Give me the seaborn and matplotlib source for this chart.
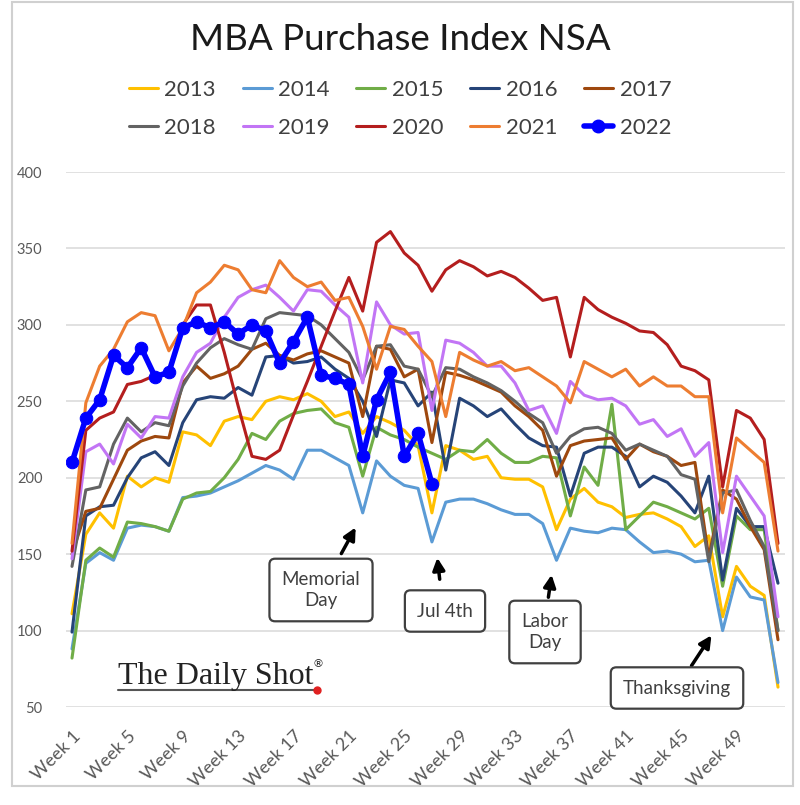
import matplotlib
matplotlib.use("Agg")
import matplotlib.pyplot as plt
from matplotlib.patches import Rectangle
from matplotlib.lines import Line2D
import pandas as pd
import seaborn as sns

# ── Data ─────────────────────────────────────────────────────────
weeks = list(range(1, 53))
tick_weeks = list(range(1, 53, 4))
tick_labels = [f"Week {w}" for w in tick_weeks]

y2013 = [111, 163, 177, 167, 201, 194, 200, 197, 230, 228, 221, 237, 240, 238, 250, 253,
         251, 255, 250, 240, 243, 229, 240, 236, 231, 221, 177, 221, 218, 212, 214, 200,
         199, 199, 194, 166, 186, 193, 184, 181, 174, 176, 177, 173, 168, 155, 162, 109,
         142, 129, 123, 63]
y2014 = [88, 144, 151, 146, 167, 169, 168, 165, 187, 188, 190, 194, 198, 203, 208, 205,
         199, 218, 218, 213, 208, 177, 211, 201, 195, 193, 158, 184, 186, 186, 183, 179,
         176, 176, 170, 146, 167, 165, 164, 167, 166, 158, 151, 152, 150, 145, 146, 100,
         135, 122, 120, 66]
y2015 = [82, 146, 154, 148, 171, 170, 168, 165, 186, 190, 191, 200, 212, 229, 225, 237,
         242, 244, 245, 236, 233, 201, 233, 228, 225, 220, 216, 212, 218, 217, 225, 216,
         210, 210, 214, 213, 175, 207, 195, 248, 166, 175, 184, 181, 177, 173, 180, 129,
         175, 166, 166, 100]
y2016 = [99, 175, 181, 182, 200, 213, 217, 208, 236, 251, 253, 252, 259, 254, 279, 280,
         275, 276, 279, 271, 265, 250, 227, 264, 262, 247, 256, 205, 252, 247, 240, 245,
         235, 226, 221, 220, 188, 216, 220, 220, 214, 194, 201, 197, 188, 177, 201, 133,
         180, 168, 168, 131]
y2017 = [150, 178, 180, 199, 218, 224, 227, 226, 262, 273, 265, 268, 273, 284, 288, 280,
         277, 281, 283, 279, 275, 240, 286, 284, 266, 271, 223, 269, 267, 264, 260, 256,
         247, 240, 231, 201, 221, 224, 225, 226, 212, 222, 217, 214, 208, 210, 148, 192,
         186, 168, 153, 94]
y2018 = [142, 192, 194, 222, 239, 230, 236, 234, 260, 275, 285, 291, 287, 284, 304, 308,
         307, 306, 300, 291, 282, 264, 286, 287, 273, 271, 253, 272, 271, 266, 262, 257,
         250, 242, 236, 216, 227, 232, 233, 229, 218, 222, 218, 214, 202, 199, 145, 190,
         192, 172, 155, 100]
y2019 = [147, 217, 222, 209, 235, 226, 240, 239, 266, 282, 288, 305, 318, 323, 326, 318,
         309, 323, 322, 313, 305, 262, 315, 300, 294, 295, 244, 290, 288, 282, 273, 273,
         262, 244, 247, 229, 263, 254, 251, 252, 247, 235, 238, 227, 232, 214, 223, 151,
         201, 188, 175, 109]
y2020 = [152, 231, 239, 243, 261, 263, 267, 267, 300, 313, 313, 282, 247, 214, 212, 218,
         241, 263, 286, 309, 331, 309, 354, 361, 347, 339, 322, 336, 342, 338, 332, 335,
         331, 324, 316, 318, 279, 318, 310, 305, 301, 296, 295, 287, 273, 270, 264, 194,
         244, 239, 225, 157]
y2021 = [157, 249, 273, 284, 302, 308, 306, 283, 298, 321, 328, 339, 336, 323, 321, 342,
         331, 325, 328, 316, 318, 299, 271, 299, 297, 286, 276, 240, 282, 277, 273, 276,
         270, 272, 266, 260, 249, 276, 271, 266, 271, 260, 266, 260, 260, 253, 253, 177,
         226, 218, 210, 152]
y2022 = [210, 239, 251, 280, 272, 285, 266, 269, 298, 302, 298, 302, 294, 300, 296, 275,
         289, 305, 267, 265, 261, 214, 251, 269, 214, 229, 196]

years = ["2013", "2014", "2015", "2016", "2017", "2018", "2019", "2020", "2021", "2022"]
series = [y2013, y2014, y2015, y2016, y2017, y2018, y2019, y2020, y2021, y2022]
colors = ["#FFC000", "#5B9BD5", "#70AD47", "#264478", "#9E480E",
          "#636363", "#C275F5", "#B41E1E", "#ED7D31", "#0000FF"]

rows = []
for yr, vals in zip(years, series):
    for w, v in zip(weeks, vals):
        rows.append({"week": w, "value": v, "year": yr})
df = pd.DataFrame(rows)

# ── Style ────────────────────────────────────────────────────────
sns.set_theme(style="white")
plt.rcParams["font.family"] = ["Lato", "DejaVu Sans"]

fig = plt.figure(figsize=(8.0, 8.05), dpi=100)
ax = fig.add_axes([66 / 800, 1 - 707 / 805, (785 - 66) / 800, (707 - 172) / 805])

# outer chart border
fig.patches.append(Rectangle((12 / 800, 1 - 786 / 805), 781 / 800, 784 / 805,
                             transform=fig.transFigure, fill=False,
                             edgecolor="#D0D0D0", linewidth=1.5, zorder=0))

for yr, clr in zip(years, colors):
    sub = df[df["year"] == yr]
    if yr == "2022":
        sns.lineplot(data=sub, x="week", y="value", ax=ax, color=clr, linewidth=4,
                     marker="o", markersize=9, markeredgecolor=clr, zorder=5)
    else:
        sns.lineplot(data=sub, x="week", y="value", ax=ax, color=clr, linewidth=2.2,
                     zorder=3)

ax.set_xlim(1 - 6 / 13.84, 52 + 7 / 13.84)
ax.set_ylim(50, 400)
ax.set_yticks(range(50, 401, 50))
ax.set_xticks(tick_weeks)
ax.set_xticklabels(tick_labels, rotation=45, ha="right", va="top",
                   rotation_mode="anchor")
ax.tick_params(axis="x", length=0, pad=15, labelsize=13, labelcolor="#595959")
ax.tick_params(axis="y", length=0, pad=17, labelsize=10.5, labelcolor="#595959")
ax.yaxis.grid(True, color="#DCDCDC", linewidth=1.2)
ax.set_axisbelow(True)
for s in ax.spines.values():
    s.set_visible(False)
ax.set_xlabel("")
ax.set_ylabel("")

# ── Title and legend ─────────────────────────────────────────────
fig.text(0.5, 1 - 40 / 805, "MBA Purchase Index NSA", ha="center", va="center",
         fontsize=26.5, color="#1A1A1A")

handles = []
for yr, clr in zip(years, colors):
    if yr == "2022":
        handles.append(Line2D([], [], color=clr, lw=4, marker="o", markersize=9))
    else:
        handles.append(Line2D([], [], color=clr, lw=2.2))
order = [0, 5, 1, 6, 2, 7, 3, 8, 4, 9]
fig.legend([handles[i] for i in order], [years[i] for i in order],
           loc="upper center", bbox_to_anchor=(0.5, 1 - 80 / 805), ncol=5,
           frameon=False, fontsize=16, handlelength=1.3, handletextpad=0.3,
           columnspacing=1.2, labelspacing=0.8, labelcolor="#404040",
           borderaxespad=0, borderpad=0)

# ── Holiday annotations ──────────────────────────────────────────
def px(x, y):
    return (x / 800, 1 - y / 805)

notes = [
    ("Memorial\nDay", (321, 590), (340, 556), (357, 525)),
    ("Jul 4th", (445, 611), (440, 582), (437, 555)),
    ("Labor\nDay", (545, 632), (548, 600), (552, 572)),
    ("Thanksgiving", (677, 688), (690, 668), (713, 633)),
]
for txt, c, a0, a1 in notes:
    fig.text(*px(*c), txt, ha="center", va="center", fontsize=13.5,
             color="#404040", linespacing=1.3,
             bbox=dict(boxstyle="round,pad=0.65,rounding_size=0.3",
                       fc="white", ec="#404040", lw=1.6))
    ax.annotate("", xy=px(*a1), xytext=px(*a0), xycoords="figure fraction",
                textcoords="figure fraction",
                arrowprops=dict(arrowstyle="-|>,head_length=0.6,head_width=0.3",
                                color="black", lw=2.5))

# ── Logo ─────────────────────────────────────────────────────────
fig.text(*px(118, 676), "The Daily Shot", ha="left", va="center", fontsize=23,
         family="Liberation Serif", color="#222222")
fig.text(*px(312, 664), "®", ha="left", va="center", fontsize=8,
         family="DejaVu Sans", color="#222222")
fig.add_artist(Line2D([118 / 800, 316 / 800], [1 - 690 / 805, 1 - 690 / 805],
                      color="#555555", lw=1.5, transform=fig.transFigure))
fig.add_artist(Line2D([317 / 800], [1 - 690 / 805], marker="o", markersize=5,
                      color="#E02020", transform=fig.transFigure))

plt.savefig("out.png", dpi=100)
plt.close()
